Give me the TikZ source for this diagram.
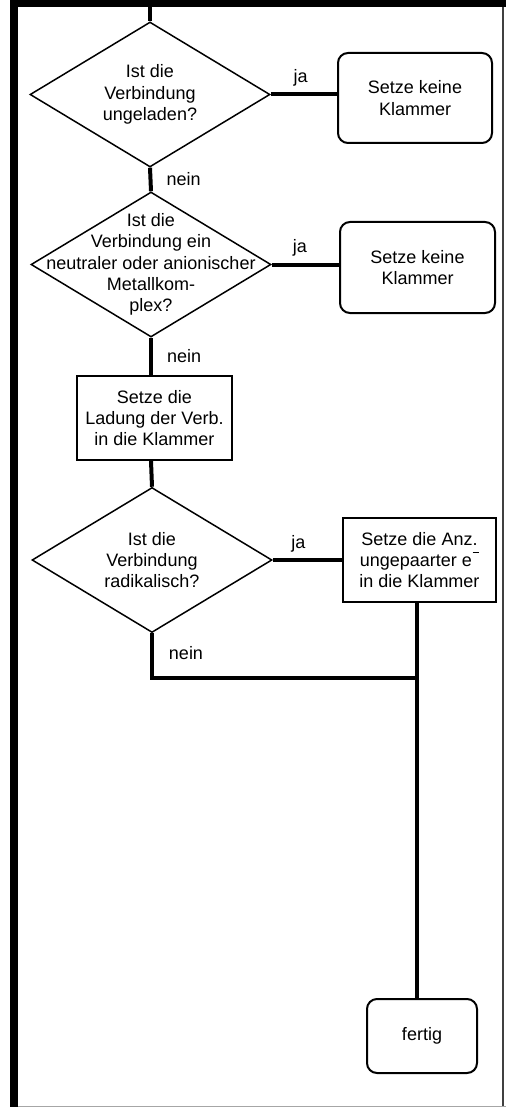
\documentclass[tikz,border=0pt]{standalone}
\usepackage{fontspec}
\setmainfont{Liberation Sans}
\usetikzlibrary{shapes.geometric}
\begin{document}
\begin{tikzpicture}[x=1pt,y=-1pt,
  every node/.style={font=\fontsize{18}{21.3}\selectfont},
  dec/.style={draw, line width=1.5pt, shape=diamond, inner sep=0pt,
    minimum width=240pt, minimum height=145pt},
  dtext/.style={align=center, inner sep=0pt},
  rbox/.style={draw, line width=2pt, rounded corners=10pt, align=center, inner sep=0pt},
  sbox/.style={draw, line width=2pt, align=center, inner sep=0pt},
  conn/.style={line width=4pt},
  lbl/.style={inner sep=0pt}
]
\useasboundingbox (0,0) rectangle (506,1107);
% frame
\fill[black] (10,0) rectangle (506,7);
\fill[black] (10,0) rectangle (18,1107);
\draw[line width=2pt, black!75] (502.5,7) -- (502.5,1107);
\draw[line width=1pt, black!35] (18,1106.5) -- (506,1106.5);

% nodes
\node[dec, label={[dtext]center:{Ist die\\Verbindung\\ungeladen?}}] (d1) at (150,94.5) {};
\node[rbox, minimum width=154pt, minimum height=90pt] (b1) at (415,98) {Setze keine\\Klammer};

\node[dec, label={[dtext]center:{Ist die\\Verbindung ein\\neutraler oder anionischer\\Metallkom-\\plex?}}] (d2) at (151,264.5) {};
\node[rbox, minimum width=155pt, minimum height=91pt] (b2) at (417.5,267.5) {Setze keine\\Klammer};

\node[sbox, minimum width=155pt, minimum height=84pt] (b3) at (154.5,418) {Setze die\\Ladung der Verb.\\in die Klammer};

\node[dec, label={[dtext]center:{Ist die\\Verbindung\\radikalisch?}}] (d3) at (152,560) {};
\node[sbox, minimum width=153pt, minimum height=84pt] (b4) at (419.5,560) {Setze die Anz.\\ungepaarter e\hspace{0.04em}\rule[0.74em]{0.36em}{0.075em}\\in die Klammer};

\node[rbox, minimum width=110pt, minimum height=74pt] (f) at (422,1036) {fertig};

\coordinate (top) at (150,7);
\coordinate (j) at (417,678);

% connectors
\draw[conn] (top) -- (d1.north);
\draw[conn] (d1.east) -- (d1.east -| b1.west) node[lbl, pos=0.45, above=6pt] (ja1) {ja};
\draw[conn] (d1.south) -- (d2.north) node[lbl, midway, right=14pt] (n1) {nein};
\draw[conn] (d2.east) -- (d2.east -| b2.west) node[lbl, pos=0.42, above=6pt] (ja2) {ja};
\draw[conn] (d2.south) -- (d2.south |- b3.north) node[lbl, midway, right=14pt] (n2) {nein};
\draw[conn] (d2.south |- b3.south) -- (d3.north);
\draw[conn] (d3.east) -- (d3.east -| b4.west) node[lbl, pos=0.37, above=6pt] (ja3) {ja};
\draw[conn] (d3.south) -- (d3.south |- j) -- (j);
\draw[conn] (j |- b4.south) -- (j |- f.north);
\node[lbl] (n3) at (186,653) {nein};
\end{tikzpicture}
\end{document}
